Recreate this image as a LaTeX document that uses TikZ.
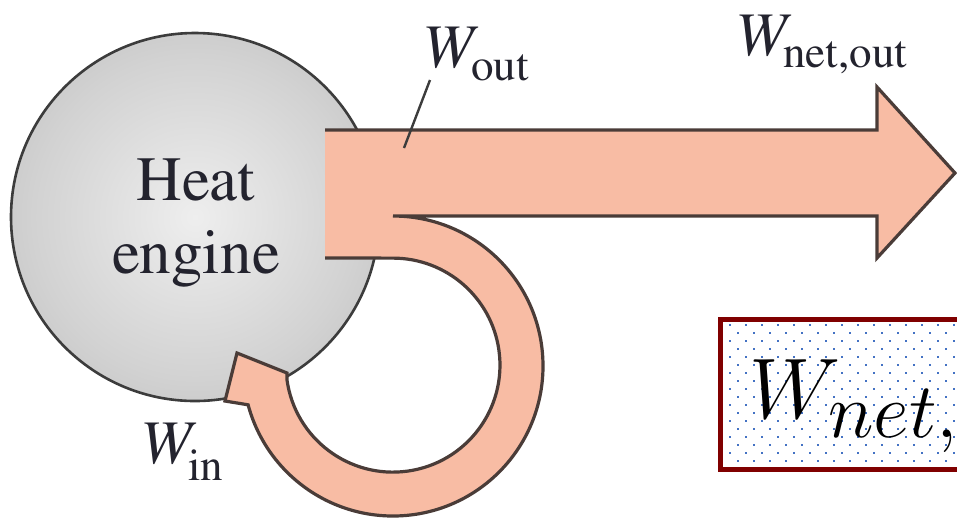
\RequirePackage{fix-cm}
\documentclass[tikz,border=0pt]{standalone}
\usepackage[T1]{fontenc}
\newcommand{\labelserif}{\fontencoding{T1}\fontfamily{ptm}\selectfont}

\definecolor{flow}{HTML}{F8BCA4}
\definecolor{flowedge}{HTML}{4A3C38}
\definecolor{ballin}{HTML}{EEEEEE}
\definecolor{ballmid}{HTML}{D2D2D2}
\definecolor{ballout}{HTML}{A6A6A6}
\definecolor{balledge}{HTML}{3C3C3C}
\definecolor{labeltext}{HTML}{23232E}
\definecolor{boxred}{HTML}{800000}
\definecolor{dotblue}{HTML}{4472C4}

\pgfdeclareradialshading{engineball}{\pgfpoint{0bp}{0bp}}%
  {color(0bp)=(ballin); color(22bp)=(ballmid); color(50bp)=(ballout)}

\tikzset{
  lbl/.style={inner sep=0pt, anchor=base west, text=labeltext},
  bigW/.style={lbl, font=\labelserif\fontsize{31}{31}\selectfont\itshape},
  subs/.style={lbl, font=\labelserif\fontsize{22.5}{22.5}\selectfont},
  enginetext/.style={inner sep=0pt, anchor=base, text=labeltext,
    font=\labelserif\fontsize{31.5}{31.5}\selectfont},
  flowline/.style={draw=flowedge, line width=1.6pt, line join=miter},
  leader/.style={draw=balledge, line width=1.2pt},
}

\begin{document}
\begin{tikzpicture}[x=0.5pt,y=-0.5pt]
  \useasboundingbox (0,0) rectangle (957,521);
  \clip (0,0) rectangle (957,521);

  % the engine
  \node[circle, minimum size=184pt, inner sep=0pt, shading=engineball,
        draw=balledge, line width=1.3pt] (engine) at (195,217) {};

  % work flows: outgoing arrow and the loop returning to the engine
  \path[fill=flow]
    (325,130) -- (877,130) -- (877,87) -- (955,173) -- (877,258) -- (877,216)
    -- (393,216) arc[start angle=-90, end angle=165, radius=150]
    -- (225,401) -- (237,353) -- (287,373) -- (287,380)
    arc[start angle=172, end angle=-90, radius=107]
    -- (325,258) -- cycle;
  \draw[flowline]
    (325,130) -- (877,130) -- (877,87) -- (955,173) -- (877,258) -- (877,216)
    -- (393,216) arc[start angle=-90, end angle=165, radius=150]
    -- (225,401) -- (237,353) -- (287,373) -- (287,380)
    arc[start angle=172, end angle=-90, radius=107]
    -- (325,258);

  \node[enginetext] (heat) at (196,200) {Heat};
  \node[enginetext] (engtxt) at (196,273) {engine};

  % labels
  \node[bigW] (wout) at (422,67) {W};
  \node[subs] (woutsub) at (471,80) {out};
  \coordinate (leadtop) at (430,80);
  \coordinate (leadend) at (404,148);
  \draw[leader] (leadtop) -- (leadend);

  \node[bigW] (wnet) at (735,55) {W};
  \node[subs] (wnetsub) at (783,67) {net,out};

  \node[bigW] (win) at (140,463) {W};
  \node[subs] (winsub) at (188,480) {in};

  % framed formula
  \fill[white] (720,319) rectangle (990,470);
  \foreach \k in {0,...,17} {
    \foreach \j in {0,...,15} {
      \fill[dotblue] ({728.5+16*\j+8*mod(\k,2)},{324+8*\k}) rectangle +(2.2,2.2);
    }
  }
  \draw[boxred, line width=2.5pt] (720.5,319) rectangle (990,469.7);
  \node[inner sep=0pt, anchor=base west] (fw) at (749,418)
    {\fontsize{43}{43}\selectfont$W$};
  \node[inner sep=0pt, anchor=base west] (fsub) at (828,437)
    {\fontsize{39}{39}\selectfont$net{,}out$};
\end{tikzpicture}
\end{document}
